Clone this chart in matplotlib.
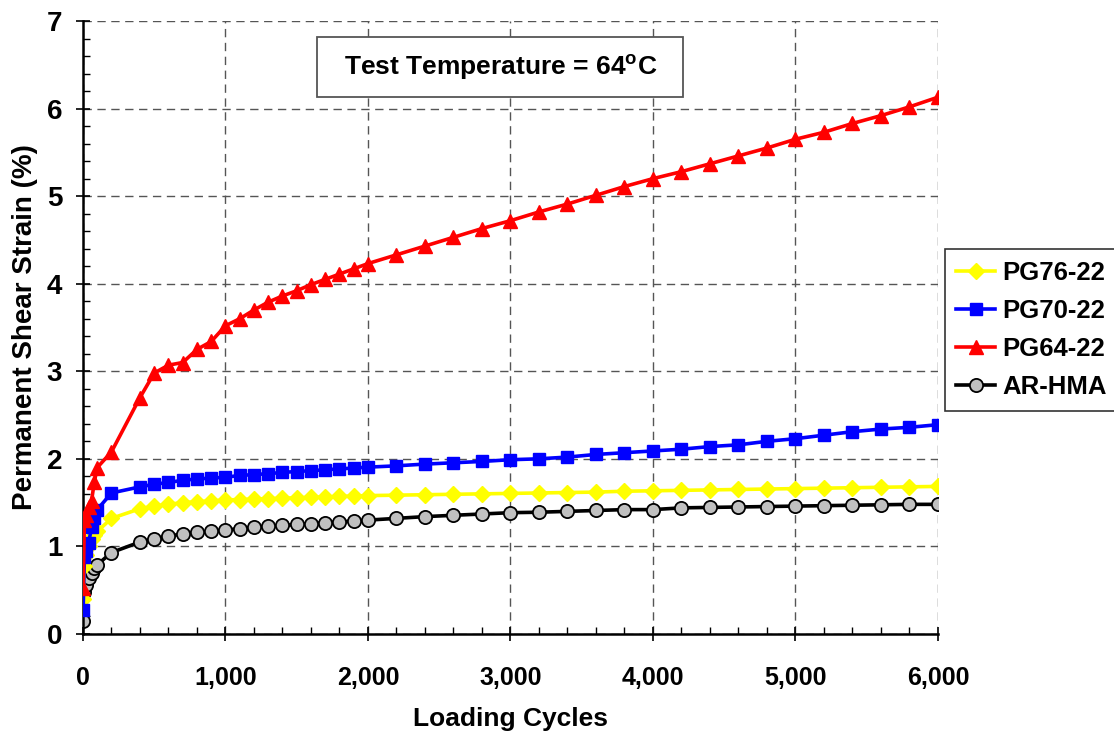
import matplotlib
matplotlib.use("Agg")
import matplotlib.pyplot as plt
from matplotlib.patches import Rectangle
from matplotlib.ticker import MultipleLocator, FuncFormatter

plt.rcParams['font.family'] = ['Liberation Sans', 'DejaVu Sans']
plt.rcParams['font.weight'] = 'bold'
plt.rcParams['mathtext.fontset'] = 'custom'
plt.rcParams['mathtext.bf'] = 'Liberation Sans:bold'
plt.rcParams['mathtext.rm'] = 'Liberation Sans:bold'

# loading cycles
cycles = [1, 10, 20, 40, 60, 80, 100, 200, 400, 500, 600, 700, 800, 900,
          1000, 1100, 1200, 1300, 1400, 1500, 1600, 1700, 1800, 1900, 2000,
          2200, 2400, 2600, 2800, 3000, 3200, 3400, 3600, 3800, 4000,
          4200, 4400, 4600, 4800, 5000, 5200, 5400, 5600, 5800, 6000]

# permanent shear strain (%)
pg76 = [0.40, 0.78, 0.90, 1.00, 1.08, 1.13, 1.17, 1.32, 1.43, 1.46, 1.48, 1.50, 1.51, 1.52,
        1.53, 1.535, 1.54, 1.545, 1.55, 1.555, 1.56, 1.565, 1.57, 1.575, 1.58,
        1.585, 1.59, 1.595, 1.60, 1.605, 1.61, 1.615, 1.62, 1.63, 1.635,
        1.64, 1.645, 1.65, 1.655, 1.66, 1.665, 1.67, 1.675, 1.68, 1.685]
pg70 = [0.27, 0.88, 0.95, 1.04, 1.22, 1.32, 1.42, 1.61, 1.68, 1.71, 1.73, 1.755, 1.77, 1.78,
        1.79, 1.81, 1.82, 1.83, 1.845, 1.855, 1.865, 1.875, 1.885, 1.895, 1.905,
        1.92, 1.94, 1.955, 1.97, 1.99, 2.00, 2.02, 2.05, 2.07, 2.09,
        2.11, 2.14, 2.16, 2.20, 2.23, 2.27, 2.31, 2.34, 2.36, 2.39]
pg64 = [0.52, 1.30, 1.36, 1.45, 1.52, 1.74, 1.90, 2.08, 2.70, 2.98, 3.07, 3.10, 3.25, 3.34,
        3.52, 3.60, 3.70, 3.79, 3.86, 3.92, 3.99, 4.05, 4.11, 4.17, 4.23,
        4.33, 4.43, 4.53, 4.63, 4.72, 4.82, 4.91, 5.01, 5.11, 5.20,
        5.28, 5.37, 5.46, 5.55, 5.65, 5.73, 5.83, 5.92, 6.02, 6.13]
arhma = [0.15, 0.48, 0.56, 0.64, 0.70, 0.75, 0.79, 0.93, 1.05, 1.08, 1.12, 1.14, 1.16, 1.17,
         1.19, 1.20, 1.22, 1.23, 1.24, 1.25, 1.26, 1.27, 1.28, 1.29, 1.30,
         1.32, 1.34, 1.355, 1.37, 1.385, 1.39, 1.40, 1.41, 1.42, 1.42,
         1.44, 1.445, 1.45, 1.455, 1.46, 1.465, 1.47, 1.475, 1.48, 1.48]

fig = plt.figure(figsize=(11.14, 7.38), dpi=100)
ax = fig.add_axes([0.0745, 0.141, 0.7675, 0.8305])

ax.plot(cycles, pg76, color='#ffff00', marker='D', markersize=8, lw=2.6,
        markeredgecolor='#ffff00', label='PG76-22', zorder=3)
ax.plot(cycles, pg70, color='#0000ff', marker='s', markersize=9, lw=2.6,
        label='PG70-22', zorder=4)
ax.plot(cycles, pg64, color='#ff0000', marker='^', markersize=10, lw=2.6,
        label='PG64-22', zorder=5)
ax.plot(cycles, arhma, color='black', marker='o', markersize=9.5, lw=2.6,
        markerfacecolor='#c0c0c0', markeredgecolor='black', markeredgewidth=1.3,
        label='AR-HMA', zorder=2)

ax.set_xlim(0, 6000)
ax.set_ylim(0, 7)
ax.xaxis.set_major_locator(MultipleLocator(1000))
ax.xaxis.set_minor_locator(MultipleLocator(200))
ax.yaxis.set_major_locator(MultipleLocator(1))
ax.yaxis.set_minor_locator(MultipleLocator(0.2))
ax.xaxis.set_major_formatter(FuncFormatter(lambda v, p: f"{int(v):,}"))
ax.tick_params(which='major', direction='inout', length=10, width=1.2, labelsize=18, pad=8)
ax.tick_params(which='minor', direction='in', length=5, width=1.0)
ax.tick_params(axis='x', which='major', pad=18)
ax.tick_params(axis='y', which='major', labelsize=20, pad=10)

ax.grid(True, which='major', linestyle=(0, (6, 4)), color='#555555', lw=1.0)
for s in ['top', 'right']:
    ax.spines[s].set_visible(False)
for s in ['left', 'bottom']:
    ax.spines[s].set_linewidth(1.8)

ax.set_xlabel("Loading Cycles", fontsize=19, fontweight='bold', labelpad=12)
ax.set_ylabel("Permanent Shear Strain (%)", fontsize=20, fontweight='bold', labelpad=6)

# title box
ax.add_patch(Rectangle((0.274, 0.876), 0.428, 0.098, transform=ax.transAxes,
                       facecolor='white', edgecolor='#555555', lw=1.3, zorder=6))
ax.text(0.488, 0.925, r"Test Temperature = 64$^{\mathbf{o}}$C", transform=ax.transAxes,
        ha='center', va='center', fontsize=19, fontweight='bold', zorder=7)

leg = fig.legend(loc='upper left', bbox_to_anchor=(0.848, 0.662), fontsize=18.5,
                 frameon=True, fancybox=False, edgecolor='black', handlelength=1.5,
                 borderpad=0.45, labelspacing=0.55, handletextpad=0.3, borderaxespad=0)
leg.get_frame().set_linewidth(1.2)

fig.savefig("out.png", dpi=100)
